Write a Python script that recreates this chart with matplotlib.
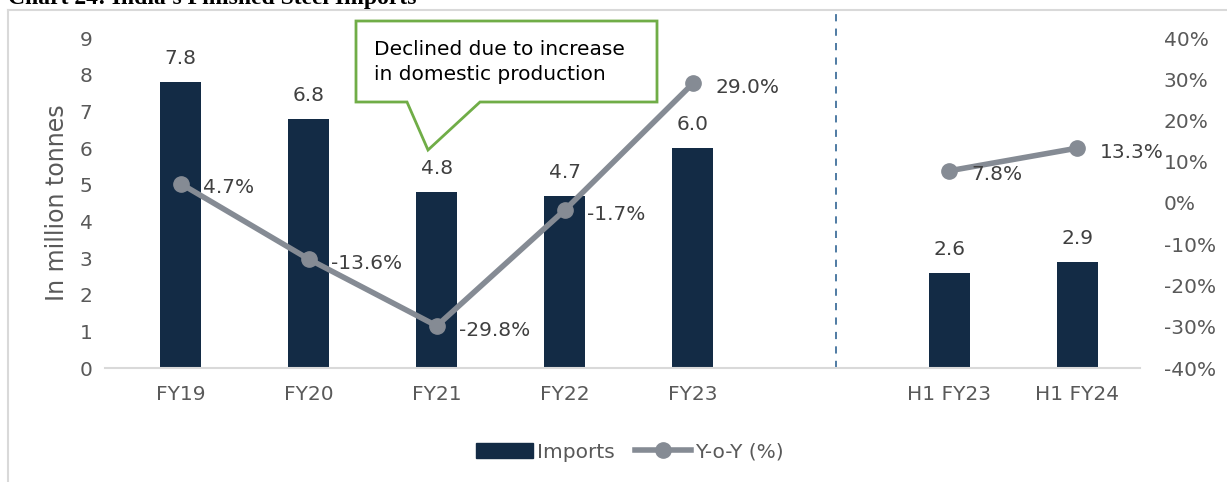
import matplotlib
matplotlib.use("Agg")
import matplotlib.pyplot as plt
from matplotlib.patches import Polygon
from matplotlib.lines import Line2D
from matplotlib.patches import Patch

categories = ["FY19", "FY20", "FY21", "FY22", "FY23", "", "H1 FY23", "H1 FY24"]
imports = [7.8, 6.8, 4.8, 4.7, 6.0, None, 2.6, 2.9]
yoy = [4.7, -13.6, -29.8, -1.7, 29.0, None, 7.8, 13.3]
left_ticks = list(range(0, 10))
right_ticks = list(range(-40, 50, 10))

W, H = 1227, 482
fig = plt.figure(figsize=(W / 100, H / 100), dpi=100)
plt.rcParams['font.family'] = ['DejaVu Sans']

def fx(x): return x / W
def fy(y): return 1 - y / H

ax = fig.add_axes([fx(105), fy(368), fx(1140) - fx(105), fy(38) - fy(368)])
ax2 = ax.twinx()

BAR = "#132B45"
LINE = "#858B94"
TXT = "#595959"
FS = 14.5

xs = list(range(len(categories)))
bx = [x for x, v in zip(xs, imports) if v is not None]
bv = [v for v in imports if v is not None]
ax.bar(bx, bv, width=0.32, color=BAR, zorder=2)
for x, v in zip(bx, bv):
    ax.annotate(f"{v:.1f}", (x, v), xytext=(0, 10), textcoords="offset points",
                ha="center", va="bottom", fontsize=FS, color="#404040")

ax.set_ylim(0, 9)
ax.set_xlim(-0.59, 7.49)
ax.set_yticks(left_ticks)
ax.set_xticks([x for x, c in zip(xs, categories) if c])
ax.set_xticklabels([c for c in categories if c])
ax.tick_params(axis="both", length=0, labelsize=FS, labelcolor=TXT)
ax.tick_params(axis="y", pad=9)
ax.tick_params(axis="x", pad=12)
for s in ["top", "right", "left"]:
    ax.spines[s].set_visible(False)
ax.spines["bottom"].set_color("#D9D9D9")
ax.spines["bottom"].set_linewidth(1.5)
ax.set_ylabel("In million tonnes", fontsize=17, color=TXT, labelpad=8)

# Y-o-Y line (two segments)
seg1 = [(x, v) for x, v in zip(xs[:5], yoy[:5])]
seg2 = [(x, v) for x, v in zip(xs[6:], yoy[6:])]
for seg in (seg1, seg2):
    ax2.plot([p[0] for p in seg], [p[1] / 100 for p in seg], color=LINE, lw=4,
             marker="o", ms=11, zorder=3)
for x, v in zip(xs, yoy):
    if v is None:
        continue
    ax2.annotate(f"{v:.1f}%", (x, v / 100), xytext=(16, -3), textcoords="offset points",
                 ha="left", va="center", fontsize=FS, color="#404040")
ax2.set_ylim(-0.4, 0.4)
ax2.set_yticks([t / 100 for t in right_ticks])
ax2.set_yticklabels([f"{t}%" for t in right_ticks])
ax2.tick_params(axis="y", length=0, labelsize=FS, labelcolor=TXT, pad=17)
for s in ax2.spines.values():
    s.set_visible(False)

# dashed separator
ax.axvline(5.12, ymin=0, ymax=(368 - 13) / 330, color="#41719C", lw=1.3,
           ls=(0, (4, 4)), clip_on=False, zorder=1)

# callout
pts = [(356, 21), (657, 21), (657, 102), (480, 102), (428, 150), (407, 102), (356, 102)]
poly = Polygon([(fx(x), fy(y)) for x, y in pts], closed=True, transform=fig.transFigure,
               facecolor="white", edgecolor="#70AD47", lw=2, zorder=5)
fig.add_artist(poly)
fig.text(fx(374), fy(62), "Declined due to increase\nin domestic production",
         ha="left", va="center", fontsize=FS, color="black", linespacing=1.35, zorder=6)

# outer border
fig.add_artist(Line2D([fx(8), fx(1227)], [fy(10), fy(10)], transform=fig.transFigure,
                      color="#D9D9D9", lw=1.5))
fig.add_artist(Line2D([fx(8), fx(8)], [fy(10), fy(482)], transform=fig.transFigure,
                      color="#D9D9D9", lw=1.5))

# cut-off title (partly outside the canvas, as in the reference)
fig.text(fx(8), fy(4), "Chart 24: India's Finished Steel Imports", ha="left", va="baseline",
         fontsize=17, fontweight="bold", family="Liberation Serif", color="black")

# legend
handles = [Patch(facecolor=BAR, edgecolor=BAR),
           Line2D([0], [0], color=LINE, lw=4, marker="o", ms=11)]
fig.legend(handles, ["Imports", "Y-o-Y (%)"], loc="center", bbox_to_anchor=(fx(630), fy(452)),
           ncol=2, frameon=False, fontsize=FS, labelcolor=TXT, handlelength=2.8,
           handletextpad=0.2, columnspacing=1.0)

fig.savefig("out.png", dpi=100)
